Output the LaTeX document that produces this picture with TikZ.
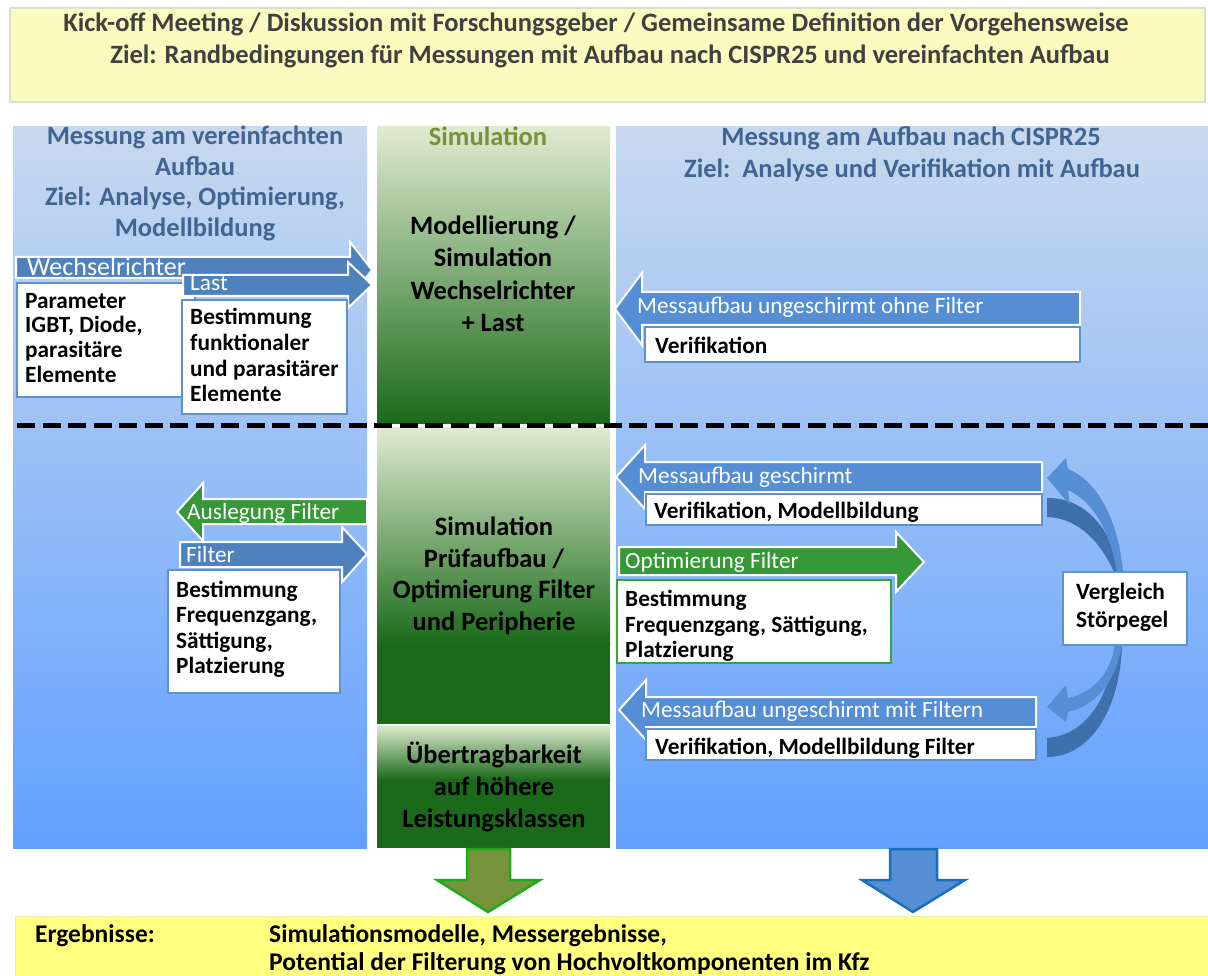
\documentclass[tikz,border=0pt]{standalone}
\usepackage{fontspec}
\setmainfont{Carlito}
\definecolor{bannerY}{RGB}{251,251,192}
\definecolor{bannerB}{RGB}{222,222,205}
\definecolor{resY}{RGB}{255,255,128}
\definecolor{topTxt}{RGB}{64,64,64}
\definecolor{colTop}{RGB}{200,217,238}
\definecolor{colBot}{RGB}{98,160,255}
\definecolor{titleBlue}{RGB}{65,100,145}
\definecolor{simGreen}{RGB}{118,146,60}
\definecolor{gLight}{RGB}{224,235,208}
\definecolor{gDark}{RGB}{26,106,26}
\definecolor{arrL}{RGB}{79,129,189}
\definecolor{arrR}{RGB}{85,142,213}
\definecolor{arrG}{RGB}{55,152,55}
\definecolor{boxB}{RGB}{95,145,205}
\definecolor{boxG}{RGB}{55,165,55}
\definecolor{curveL}{RGB}{85,142,213}
\definecolor{curveD}{RGB}{62,112,172}
\definecolor{dnG}{RGB}{119,147,60}
\definecolor{dnGb}{RGB}{30,170,30}
\definecolor{dnB}{RGB}{85,142,213}
\definecolor{dnBb}{RGB}{25,110,190}
\begin{document}
\begin{tikzpicture}[x=1pt,y=-1pt,
  txt/.style={inner sep=0pt, anchor=base west, font=\fontsize{23.3}{27}\selectfont\bfseries},
  ctxt/.style={inner sep=0pt, anchor=base, font=\fontsize{26.5}{30}\selectfont\bfseries},
  lbl/.style={inner sep=0pt, anchor=base west, text=white, font=\fontsize{23.3}{27}\selectfont},
  ttl/.style={inner sep=0pt, anchor=base, font=\fontsize{26.5}{30}\selectfont\bfseries},
  res/.style={inner sep=0pt, anchor=base west, font=\fontsize{25.5}{30}\selectfont\bfseries},
  blkarrow/.style={draw=white, line width=2pt, line join=miter},
  wbox/.style={fill=white, draw=boxB, line width=2pt},
  gbox/.style={fill=white, draw=boxG, line width=2pt}]
\useasboundingbox (0,0) rectangle (1208,976);
\fill[white] (0,0) rectangle (1208,976);
% top banner
\draw[fill=bannerY, draw=bannerB, line width=2pt] (10,8) rectangle (1205,102);
\node[ttl, text=topTxt] (k1) at (596,32) {Kick-off Meeting / Diskussion mit Forschungsgeber / Gemeinsame Definition der Vorgehensweise};
\node[ttl, text=topTxt] (k2) at (610,64) {Ziel: Randbedingungen für Messungen mit Aufbau nach CISPR25 und vereinfachten Aufbau};
% columns
\shade[top color=colTop, bottom color=colBot] (13,127) rectangle (367,848);
\shade[top color=colTop, bottom color=colBot] (616,127) rectangle (1208,848);
\shade[top color=gLight, bottom color=gDark] (377,127) rectangle (610,423);
\shade[top color=gLight, bottom color=gDark] (377,427) rectangle (610,645);
\fill[gDark] (377,644) rectangle (610,724);
\shade[top color=gLight, bottom color=gDark] (377,725) rectangle (610,780);
\fill[gDark] (377,779) rectangle (610,848);
% column titles
\foreach \t/\y [count=\i] in {{Messung am vereinfachten}/145, {Aufbau}/176, {Ziel: Analyse, Optimierung,}/206, {Modellbildung}/237}
  \node[ttl, text=titleBlue, name=lt\i] at (195,\y) {\t};
\node[ttl, text=simGreen] (simt) at (488,146) {Simulation};
\node[ttl, text=titleBlue] (rt1) at (911,146) {Messung am Aufbau nach CISPR25};
\node[ttl, text=titleBlue] (rt2) at (912,178) {Ziel:\ \ Analyse und Verifikation mit Aufbau};
% middle texts
\foreach \t/\y [count=\i] in {{Modellierung /}/235, {Simulation}/267, {Wechselrichter}/300, {+ Last}/332}
  \node[ctxt, name=mu\i] at (493,\y) {\t};
\foreach \t/\y [count=\i] in {{Simulation}/535, {Prüfaufbau /}/567, {Optimierung Filter}/598, {und Peripherie}/630}
  \node[ctxt, name=ml\i] at (494,\y) {\t};
\foreach \t/\y [count=\i] in {{Übertragbarkeit}/763, {auf höhere}/795, {Leistungsklassen}/827}
  \node[ctxt, name=mb\i] at (494,\y) {\t};
% left upper
\draw[blkarrow, fill=arrL] (16,257) -- (350,257) -- (350,242) -- (372,270) -- (350,298) -- (350,278) -- (16,278) -- cycle;
\node[lbl, font=\fontsize{26}{30}\selectfont] (wr) at (27,276) {Wechselrichter};
\draw[wbox] (17,283) rectangle (195,397);
\foreach \t/\y [count=\i] in {{Parameter}/309, {IGBT, Diode,}/333, {parasitäre}/358, {Elemente}/383}
  \node[txt, name=pa\i] at (25,\y) {\t};
\draw[blkarrow, fill=arrL] (183,275) -- (348,275) -- (348,262) -- (372,285) -- (348,308) -- (348,296) -- (183,296) -- cycle;
\node[lbl] (last) at (190,291) {Last};
\draw[wbox] (182,300) rectangle (347,414);
\foreach \t/\y [count=\i] in {{Bestimmung}/325, {funktionaler}/351, {und parasitärer}/377, {Elemente}/402}
  \node[txt, name=lb\i] at (190,\y) {\t};
% right upper
\draw[blkarrow, fill=arrR] (1080,292) -- (642,292) -- (642,273) -- (615,309) -- (642,345) -- (642,325) -- (1080,325) -- cycle;
\node[lbl] (mo) at (637,314) {Messaufbau ungeschirmt ohne Filter};
\draw[wbox] (645,327) rectangle (1080,362);
\node[txt] (v1) at (655,354) {Verifikation};
% dashed separator
\coordinate (dashL) at (17,425);
\coordinate (dashR) at (1208,425);
\draw[line width=5pt, dash pattern=on 18pt off 7.5pt] (dashL) -- (dashR);
% left lower
\draw[blkarrow, fill=arrG] (367,499) -- (203,499) -- (203,483) -- (177,512) -- (203,541) -- (203,524) -- (367,524) -- cycle;
\node[lbl] (af) at (187,519) {Auslegung Filter};
\draw[blkarrow, fill=arrL] (180,542) -- (342,542) -- (342,527) -- (367,554) -- (342,582) -- (342,567) -- (180,567) -- cycle;
\node[lbl] (fi) at (186,562) {Filter};
\draw[wbox] (168,570) rectangle (340,693);
\foreach \t/\y [count=\i] in {{Bestimmung}/597, {Frequenzgang,}/622, {Sättigung,}/648, {Platzierung}/673}
  \node[txt, name=fb\i] at (176,\y) {\t};
% right lower
\draw[blkarrow, fill=arrR] (1042,462) -- (645,462) -- (645,445) -- (616,477) -- (645,509) -- (645,492) -- (1042,492) -- cycle;
\node[lbl] (mg) at (638,483) {Messaufbau geschirmt};
\draw[wbox] (646,494) rectangle (1042,525);
\node[txt] (vm) at (654,518) {Verifikation, Modellbildung};
\draw[blkarrow, fill=arrG] (619,547) -- (896,547) -- (896,532) -- (924,562) -- (896,592) -- (896,575) -- (619,575) -- cycle;
\node[lbl] (of) at (625,568) {Optimierung Filter};
\draw[gbox] (617,580) rectangle (891,663);
\foreach \t/\y [count=\i] in {{Bestimmung}/606, {Frequenzgang, Sättigung,}/632, {Platzierung}/657}
  \node[txt, name=ob\i] at (625,\y) {\t};
\draw[blkarrow, fill=arrR] (1036,697) -- (646,697) -- (646,680) -- (619,710) -- (646,740) -- (646,727) -- (1036,727) -- cycle;
\node[lbl] (mf) at (641,717) {Messaufbau ungeschirmt mit Filtern};
\draw[wbox] (646,729) rectangle (1036,760);
\node[txt] (vf) at (655,754) {Verifikation, Modellbildung Filter};
% curved arrows
\fill[curveD] (1047,498) .. controls (1085,497) and (1112,530) .. (1121,572) -- (1114,572) .. controls (1102,545) and (1080,518) .. (1047,517) -- cycle;
\fill[curveL] (1117,572) .. controls (1110,532) and (1094,502) .. (1068,490) -- (1070,505) -- (1047,478) -- (1066,458) -- (1068,469) .. controls (1100,482) and (1119,525) .. (1123,572) -- cycle;
\fill[curveD] (1122,645) .. controls (1120,710) and (1090,757) .. (1047,757) -- (1047,738) .. controls (1085,735) and (1110,700) .. (1115,645) -- cycle;
\fill[curveL] (1115,645) .. controls (1110,675) and (1092,693) .. (1068,698) -- (1066,685) -- (1047,707) -- (1066,722) -- (1068,712) .. controls (1098,705) and (1116,680) .. (1122,645) -- cycle;
\draw[wbox] (1063,572) rectangle (1187,645);
\node[txt] (vg1) at (1076,599) {Vergleich};
\node[txt] (vg2) at (1076,627) {Störpegel};
% down arrows
\draw[fill=dnG, draw=dnGb, line width=2.5pt, line join=miter] (467,849) -- (510,849) -- (510,880) -- (540,880) -- (488,912) -- (437,880) -- (467,880) -- cycle;
\draw[fill=dnB, draw=dnBb, line width=2.5pt, line join=miter] (890,849) -- (937,849) -- (937,880) -- (965,880) -- (913,912) -- (862,880) -- (890,880) -- cycle;
% results banner
\draw[fill=resY, draw={rgb,255:red,240;green,240;blue,170}, line width=1pt] (15,916) rectangle (1210,980);
\node[res] (erg) at (35,942) {Ergebnisse:};
\node[res] (r1) at (269,942) {Simulationsmodelle, Messergebnisse,};
\node[res] (r2) at (269,970) {Potential der Filterung von Hochvoltkomponenten im Kfz};
\end{tikzpicture}
\end{document}
